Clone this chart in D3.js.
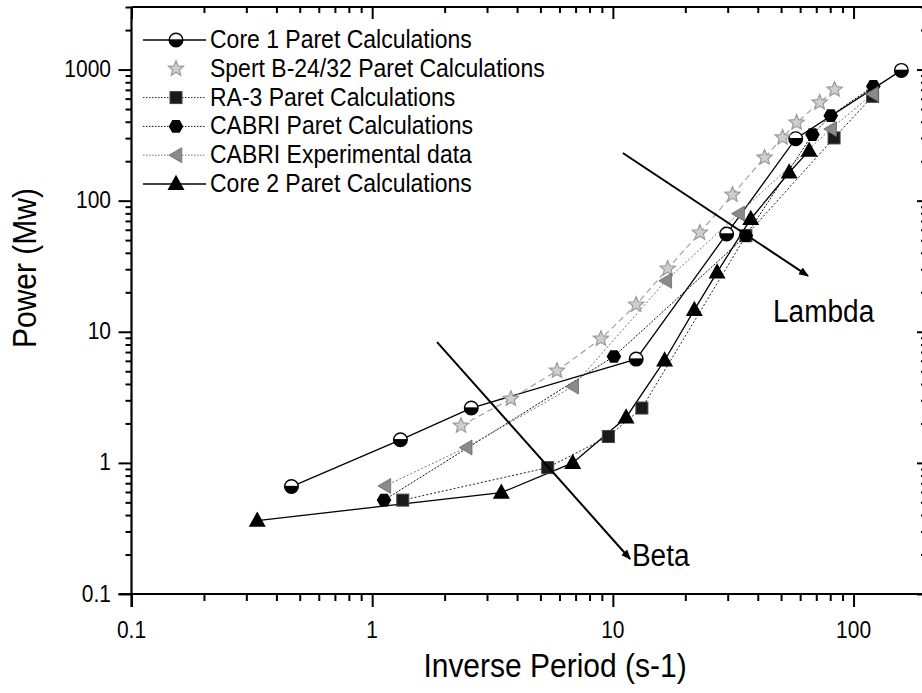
<!DOCTYPE html>
<html>
<head>
<meta charset="utf-8">
<script src="https://cdn.jsdelivr.net/npm/d3@7/dist/d3.min.js"></script>
<style>
html,body{margin:0;padding:0;background:#fff;}
svg{display:block;font-family:"Liberation Sans",Arial,Helvetica,sans-serif;}
</style>
</head>
<body>
<svg id="chart" width="922" height="693"></svg>
<script>
(function(){
// ---------------- DATA ----------------
const seriesNames = ["Core 1 Paret Calculations","Spert B-24/32 Paret Calculations","RA-3 Paret Calculations","CABRI Paret Calculations","CABRI Experimental data","Core 2 Paret Calculations"];

const core1X = [0.462, 1.31, 2.58, 12.5, 29.7, 57.5, 158];
const core1Y = [0.66, 1.50, 2.62, 6.19, 55.7, 297, 985];

const spertX = [2.34, 3.77, 5.86, 8.92, 12.5, 16.9, 23.0, 31.4, 42.7, 50.7, 58, 72.3, 83.4];
const spertY = [1.92, 3.08, 5.04, 8.84, 16.1, 30.3, 57, 111, 213, 303, 394, 560, 703];

const ra3X = [1.34, 5.36, 9.58, 13.2, 35.7, 83, 120];
const ra3Y = [0.52, 0.92, 1.59, 2.62, 54, 301, 625];

const cabriX = [1.12, 10.1, 35.7, 67.5, 80.4, 120.8];
const cabriY = [0.52, 6.48, 54, 319, 445, 746];

const cabriExpX = [1.13, 2.46, 6.81, 16.6, 33.3, 80.4, 120];
const cabriExpY = [0.667, 1.31, 3.82, 24.5, 79.6, 352, 650];

const core2X = [0.333, 3.44, 6.81, 11.35, 16.4, 21.8, 27.1, 37.4, 54, 65.4];
const core2Y = [0.363, 0.593, 1.0, 2.22, 6.04, 14.7, 28.4, 72.5, 164, 241];

const xMajorTicks = [0.1, 1, 10, 100];
const xTickLabels = ["0.1", "1", "10", "100"];
const yMajorTicks = [0.1, 1, 10, 100, 1000];
const yTickLabels = ["0.1", "1", "10", "100", "1000"];

// annotation arrows in data units: [x0,y0,x1,y1]
const lambdaArrow = [11.0, 231, 64.7, 26.7];
const betaArrow = [1.86, 8.35, 11.8, 0.185];
const lambdaLabel = [46.3, 11.9];
const betaLabel = [12.0, 0.163];

const xTitle = "Inverse Period (s-1)";
const yTitle = "Power (Mw)";

// ---------------- SCALES ----------------
const svg = d3.select("#chart");
const x = d3.scaleLog().domain([0.1, 200]).range([131.5, 926]);
const y = d3.scaleLog().domain([0.1, 3000]).range([594, 7]);
const X0 = x.range()[0], X1 = x.range()[1], Y0 = y.range()[0], Y1 = y.range()[1];

const TS = 1.1; // vertical text stretch of the original
function stretchedText(g, tx, ty, str, size, anchor, rotate) {
  return g.append("g").attr("transform", `translate(${tx},${ty})` + (rotate ? ` rotate(${rotate})` : "") + ` scale(1,${TS})`)
    .append("text").attr("x", 0).attr("y", 0)
    .attr("font-size", size).attr("text-anchor", anchor || "start")
    .attr("fill", "#000").text(str);
}

// ---------------- AXES ----------------
const axes = svg.append("g");
const minorX = x.ticks().filter(v => !xMajorTicks.some(m => Math.abs(m - v) < 1e-9));
const minorY = y.ticks().filter(v => !yMajorTicks.some(m => Math.abs(m - v) < 1e-9));

const gBottom = axes.append("g").attr("transform", `translate(0,${Y0})`);
gBottom.call(d3.axisBottom(x).tickValues(xMajorTicks).tickSize(13).tickFormat(""));
gBottom.append("g").call(d3.axisBottom(x).tickValues(minorX).tickSize(7).tickFormat(""));
const gTop = axes.append("g").attr("transform", `translate(0,${Y1})`);
gTop.call(d3.axisTop(x).tickValues(xMajorTicks).tickSize(-12).tickFormat(""));
gTop.append("g").call(d3.axisTop(x).tickValues(minorX).tickSize(-6).tickFormat(""));
const gLeft = axes.append("g").attr("transform", `translate(${X0},0)`);
gLeft.call(d3.axisLeft(y).tickValues(yMajorTicks).tickSize(13).tickFormat(""));
gLeft.append("g").call(d3.axisLeft(y).tickValues(minorY).tickSize(6).tickFormat(""));
const gRight = axes.append("g").attr("transform", `translate(${X1},0)`);
gRight.call(d3.axisRight(y).tickValues(yMajorTicks).tickSize(-9).tickFormat(""));
gRight.append("g").call(d3.axisRight(y).tickValues(minorY).tickSize(-5).tickFormat(""));

axes.selectAll(".domain").remove();
axes.selectAll(".tick line").attr("stroke", "#000").attr("stroke-width", 2);
axes.append("line").attr("x1", X0).attr("x2", X0).attr("y1", Y1).attr("y2", Y0 + 13).attr("stroke", "#000").attr("stroke-width", 2.2);
axes.append("line").attr("x1", X0 - 13).attr("x2", X1).attr("y1", Y0).attr("y2", Y0).attr("stroke", "#000").attr("stroke-width", 2.2);
axes.append("line").attr("x1", X0).attr("x2", X1).attr("y1", Y1).attr("y2", Y1).attr("stroke", "#000").attr("stroke-width", 2.2);
axes.append("line").attr("x1", X1).attr("x2", X1).attr("y1", Y1).attr("y2", Y0).attr("stroke", "#000").attr("stroke-width", 2.2);

const labels = svg.append("g");
xMajorTicks.forEach((v, i) => stretchedText(labels, x(v), 638, xTickLabels[i], 21, "middle"));
yMajorTicks.forEach((v, i) => stretchedText(labels, 111, y(v) + 7.5, yTickLabels[i], 21, "end"));
stretchedText(labels, 555, 677, xTitle, 30, "middle");
stretchedText(labels, 36, 268, yTitle, 30, "middle", -90);

// ---------------- MARKERS ----------------
function hexPath(r) {
  let p = "";
  for (let i = 0; i < 6; i++) {
    const a = Math.PI / 6 + i * Math.PI / 3 + Math.PI / 2;
    p += (i ? "L" : "M") + (r * Math.cos(a)).toFixed(2) + "," + (r * Math.sin(a)).toFixed(2);
  }
  return p + "Z";
}
function starPath(ro, ri) {
  let p = "";
  for (let i = 0; i < 10; i++) {
    const r = i % 2 ? ri : ro;
    const a = -Math.PI / 2 + i * Math.PI / 5;
    p += (i ? "L" : "M") + (r * Math.cos(a)).toFixed(2) + "," + (r * Math.sin(a)).toFixed(2);
  }
  return p + "Z";
}
function triUp(s) { const h = s * 0.9; return `M0,${-h * 0.6}L${s / 2},${h * 0.4}L${-s / 2},${h * 0.4}Z`; }
function triLeft(s) { const h = s * 0.85; return `M${-h * 0.55},0L${h * 0.45},${-s / 2}L${h * 0.45},${s / 2}Z`; }

const markerDraw = {
  core1: (g) => {
    const r = 6.8;
    g.append("circle").attr("r", r).attr("fill", "#fff").attr("stroke", "#000").attr("stroke-width", 1.4);
    g.append("path").attr("d", `M${-r},0A${r},${r} 0 0 0 ${r},0Z`).attr("fill", "#000");
    g.append("line").attr("x1", -r).attr("x2", r).attr("y1", 0).attr("y2", 0).attr("stroke", "#000").attr("stroke-width", 1.4);
  },
  spert: (g) => { g.append("path").attr("d", starPath(8, 3.6)).attr("fill", "#cfcfcf").attr("stroke", "#9a9a9a").attr("stroke-width", 1.2); },
  ra3: (g) => { g.append("rect").attr("x", -6).attr("y", -6).attr("width", 12).attr("height", 12).attr("fill", "#1a1a1a").attr("stroke", "#444").attr("stroke-width", 1); },
  cabri: (g) => { g.append("path").attr("d", hexPath(7.3)).attr("fill", "#000"); },
  cabriExp: (g) => { g.append("path").attr("d", triLeft(15)).attr("fill", "#8a8a8a").attr("stroke", "#6a6a6a").attr("stroke-width", 0.8); },
  core2: (g) => { g.append("path").attr("d", triUp(17)).attr("fill", "#000"); }
};

const series = [
  { key: "core1", xs: core1X, ys: core1Y, stroke: "#000", width: 1.3, dash: null },
  { key: "spert", xs: spertX, ys: spertY, stroke: "#9a9a9a", width: 1.1, dash: "6,4" },
  { key: "ra3", xs: ra3X, ys: ra3Y, stroke: "#222", width: 1.0, dash: "2,2" },
  { key: "cabri", xs: cabriX, ys: cabriY, stroke: "#111", width: 1.0, dash: "2,1.5" },
  { key: "cabriExp", xs: cabriExpX, ys: cabriExpY, stroke: "#777", width: 1.0, dash: "2,2" },
  { key: "core2", xs: core2X, ys: core2Y, stroke: "#000", width: 1.3, dash: null }
];

const line = d3.line().x(d => x(d[0])).y(d => y(d[1]));
const plot = svg.append("g");
series.forEach(s => {
  const pts = s.xs.map((v, i) => [v, s.ys[i]]);
  plot.append("path").attr("d", line(pts)).attr("fill", "none").attr("stroke", s.stroke)
    .attr("stroke-width", s.width).attr("stroke-dasharray", s.dash);
});
series.forEach(s => {
  s.xs.forEach((v, i) => {
    const g = plot.append("g").attr("transform", `translate(${x(v)},${y(s.ys[i])})`);
    markerDraw[s.key](g);
  });
});

// ---------------- ARROWS ----------------
svg.append("defs").append("marker").attr("id", "ah").attr("viewBox", "0 0 10 10")
  .attr("refX", 9).attr("refY", 5).attr("markerWidth", 5).attr("markerHeight", 5).attr("orient", "auto")
  .attr("markerUnits", "strokeWidth")
  .append("path").attr("d", "M0,1L10,5L0,9Z").attr("fill", "#000");
[lambdaArrow, betaArrow].forEach(a => {
  svg.append("line").attr("x1", x(a[0])).attr("y1", y(a[1])).attr("x2", x(a[2])).attr("y2", y(a[3]))
    .attr("stroke", "#000").attr("stroke-width", 2).attr("marker-end", "url(#ah)");
});
stretchedText(svg, x(lambdaLabel[0]), y(lambdaLabel[1]), "Lambda", 28, "start");
stretchedText(svg, x(betaLabel[0]), y(betaLabel[1]), "Beta", 28, "start");

// ---------------- LEGEND ----------------
const legend = svg.append("g");
const legKeys = ["core1", "spert", "ra3", "cabri", "cabriExp", "core2"];
legKeys.forEach((k, i) => {
  const cy = 40 + i * 28.8;
  const s = series.find(d => d.key === k);
  if (k !== "spert") {
    legend.append("line").attr("x1", 143).attr("x2", 206).attr("y1", cy).attr("y2", cy)
      .attr("stroke", s.stroke).attr("stroke-width", s.width).attr("stroke-dasharray", s.dash ? "1.5,1.5" : null);
  }
  const g = legend.append("g").attr("transform", `translate(176,${cy})`);
  markerDraw[k](g);
  stretchedText(legend, 210, cy + 8, seriesNames[i], 23, "start");
});
})();
</script>
</body>
</html>
